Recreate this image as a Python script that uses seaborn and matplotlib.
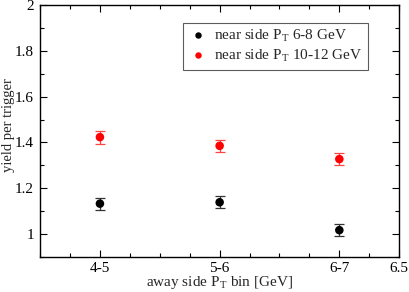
import pandas as pd
import numpy as np
import matplotlib
matplotlib.use("Agg")
import matplotlib.pyplot as plt
import seaborn as sns
from matplotlib.ticker import MultipleLocator, FixedLocator

# ---------- DATA ----------
bins = ["4-5", "5-6", "6-7"]
bin_pos = [4.0, 5.0, 6.0]
near_6_8 = [1.132, 1.138, 1.016]
near_6_8_err = [0.026, 0.027, 0.026]
near_10_12 = [1.423, 1.385, 1.327]
near_10_12_err = [0.028, 0.027, 0.026]
series_names = ["near side P$_{\\mathregular{T}}$ 6-8 GeV",
                "near side P$_{\\mathregular{T}}$ 10-12 GeV"]

df = pd.DataFrame({
    "x": bin_pos * 2,
    "y": near_6_8 + near_10_12,
    "err": near_6_8_err + near_10_12_err,
    "series": [series_names[0]] * 3 + [series_names[1]] * 3,
})

# ---------- STYLE ----------
sns.set_style("ticks")
plt.rcParams["font.family"] = ["Liberation Serif", "DejaVu Serif"]
plt.rcParams["mathtext.fontset"] = "stix"

fig = plt.figure(figsize=(4.09, 2.92), dpi=100)
ax = fig.add_axes([0.098, 0.121, 0.878, 0.861])

colors = {series_names[0]: "black", series_names[1]: "red"}
ecolors = {series_names[0]: "#333333", series_names[1]: "#ff4444"}

for name, sub in df.groupby("series", sort=False):
    ax.errorbar(sub["x"], sub["y"], yerr=sub["err"], fmt="none",
                ecolor=ecolors[name], elinewidth=0.9, capsize=3.5,
                capthick=0.9, zorder=2)

sns.scatterplot(data=df, x="x", y="y", hue="series", palette=colors,
                s=38, edgecolor="none", ax=ax, zorder=3)

# ---------- AXES ----------
ax.set_xlim(3.5, 6.5)
ax.set_ylim(0.9, 2.0)
ax.xaxis.set_major_locator(FixedLocator(bin_pos + [6.5]))
ax.set_xticklabels(bins + ["6.5"])
ax.xaxis.set_minor_locator(MultipleLocator(0.25))
ax.yaxis.set_major_locator(FixedLocator([1.0, 1.2, 1.4, 1.6, 1.8, 2.0]))
ax.set_yticklabels(["1", "1.2", "1.4", "1.6", "1.8", "2"])
ax.yaxis.set_minor_locator(MultipleLocator(0.1))

ax.tick_params(which="both", direction="in", top=True, right=True,
               labelsize=11, width=0.8, colors="black")
ax.tick_params(which="major", length=5, pad=3.5)
ax.tick_params(axis="y", which="major", pad=4.5)
ax.tick_params(which="minor", length=3)
for sp in ax.spines.values():
    sp.set_linewidth(1.0)
    sp.set_color("black")

ax.set_xlabel("away side P$_{\\mathregular{T}}$ bin [GeV]", fontsize=11)
ax.xaxis.set_label_coords(0.5, -0.07)
ax.set_ylabel("yield per trigger", fontsize=10.5)
ax.yaxis.set_label_coords(-0.070, 0.523)

leg = ax.legend(loc="upper left", bbox_to_anchor=(0.398, 0.93), frameon=True,
                fancybox=False, fontsize=11, handletextpad=0.5,
                borderpad=0.35, labelspacing=0.25, handlelength=1.2,
                markerscale=0.75, borderaxespad=0)
leg.get_frame().set_edgecolor("#333333")
leg.get_frame().set_linewidth(0.8)

fig.savefig("out.png", dpi=100)
